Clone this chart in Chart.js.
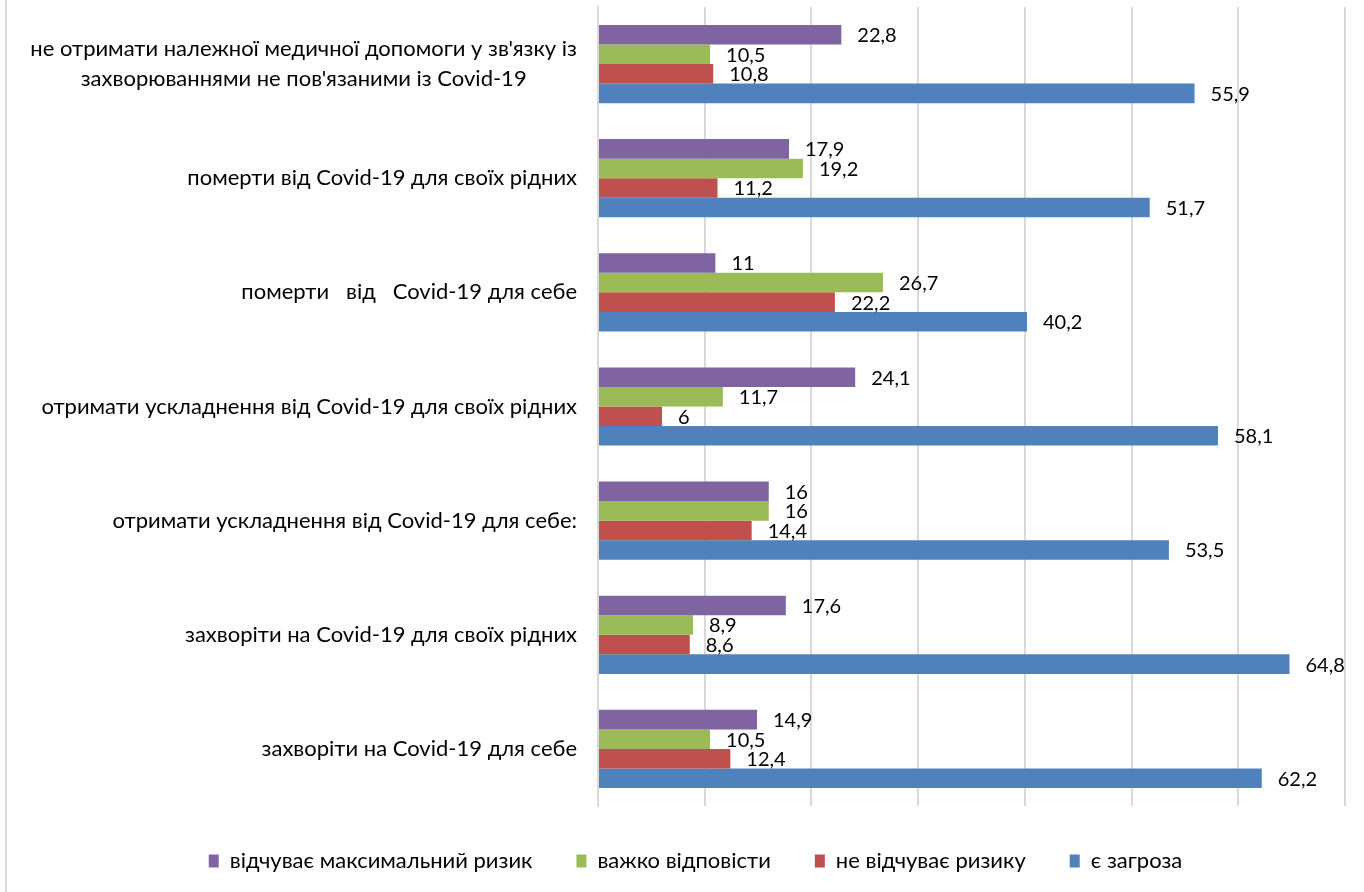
<!DOCTYPE html>
<html lang="uk">
<head>
<meta charset="utf-8">
<title>Covid-19 ризики</title>
<script src="https://cdn.jsdelivr.net/npm/chart.js@4.4.1/dist/chart.umd.min.js"></script>
<style>
    html, body { margin: 0; padding: 0; background: #fff; }
    #wrap { width: 1364px; height: 892px; }
</style>
</head>
<body>
<div id="wrap"><canvas id="risksChart" width="1364" height="892"></canvas></div>
<script>
// categories, top to bottom
const categories = [
    ["не отримати належної медичної допомоги у зв'язку із", "захворюваннями не пов'язаними із Covid-19"],
    "померти від Covid-19 для своїх рідних",
    "померти   від   Covid-19 для себе",
    "отримати ускладнення від Covid-19 для своїх рідних",
    "отримати ускладнення від Covid-19 для себе:",
    "захворіти на Covid-19 для своїх рідних",
    "захворіти на Covid-19 для себе"
];

const seriesNames = ['відчуває максимальний ризик', 'важко відповісти', 'не відчуває ризику', 'є загроза'];

const maxRisk = [22.8, 17.9, 11, 24.1, 16, 17.6, 14.9];
const hardToSay = [10.5, 19.2, 26.7, 11.7, 16, 8.9, 10.5];
const noRisk = [10.8, 11.2, 22.2, 6, 14.4, 8.6, 12.4];
const threat = [55.9, 51.7, 40.2, 58.1, 53.5, 64.8, 62.2];

const colors = ['#8064A2', '#9BBB59', '#C0504D', '#4F81BD'];
const FONT = 'Lato, "Open Sans", sans-serif';

function formatValue(v) {
    return String(v).replace('.', ',');
}

// left edge line of the chart frame
const framePlugin = {
    id: 'frame',
    beforeDraw(chart) {
        const ctx = chart.ctx;
        ctx.save();
        ctx.fillStyle = '#d9d9d9';
        ctx.fillRect(5, 0, 2, chart.height);
        ctx.restore();
    }
};

// category names, right aligned block, lines centered inside it
const categoryLabelsPlugin = {
    id: 'categoryLabels',
    afterDraw(chart) {
        const ctx = chart.ctx;
        const yScale = chart.scales.y;
        const right = chart.chartArea.left - 21;
        ctx.save();
        ctx.font = '22px ' + FONT;
        ctx.fillStyle = '#000';
        ctx.textAlign = 'center';
        ctx.textBaseline = 'middle';
        categories.forEach((label, i) => {
            const lines = Array.isArray(label) ? label : [label];
            const y = yScale.getPixelForValue(i);
            const widest = Math.max(...lines.map(l => ctx.measureText(l).width));
            const cx = right - widest / 2;
            lines.forEach((line, j) => {
                ctx.fillText(line, cx, y + (j - (lines.length - 1) / 2) * 30);
            });
        });
        ctx.restore();
    }
};

// value labels at the end of each bar
const valueLabelsPlugin = {
    id: 'valueLabels',
    afterDatasetsDraw(chart) {
        const ctx = chart.ctx;
        ctx.save();
        ctx.font = '20px ' + FONT;
        ctx.fillStyle = '#000';
        ctx.textAlign = 'left';
        ctx.textBaseline = 'middle';
        chart.data.datasets.forEach((ds, di) => {
            const meta = chart.getDatasetMeta(di);
            meta.data.forEach((bar, i) => {
                ctx.fillText(formatValue(ds.data[i]), bar.x + 16, bar.y + 1);
            });
        });
        ctx.restore();
    }
};

function makeDataset(idx, values) {
    return {
        label: seriesNames[idx],
        data: values,
        backgroundColor: colors[idx],
        borderWidth: 0,
        barPercentage: 1,
        categoryPercentage: 0.685
    };
}

new Chart(document.getElementById('risksChart'), {
    type: 'bar',
    data: {
        labels: categories,
        datasets: [
            makeDataset(0, maxRisk),
            makeDataset(1, hardToSay),
            makeDataset(2, noRisk),
            makeDataset(3, threat)
        ]
    },
    options: {
        indexAxis: 'y',
        responsive: false,
        animation: false,
        layout: {
            padding: { top: 7, right: 19, bottom: 10, left: 46 }
        },
        scales: {
            x: {
                min: 0,
                max: 70,
                ticks: { display: false, stepSize: 10 },
                grid: { color: '#d9d9d9', lineWidth: 2, drawTicks: false },
                border: { display: false }
            },
            y: {
                ticks: { display: false },
                grid: { display: false, drawTicks: false },
                border: { display: true, color: '#d9d9d9', width: 2 },
                afterFit(scale) {
                    scale.width = 552;
                }
            }
        },
        plugins: {
            legend: {
                position: 'bottom',
                maxHeight: 86,
                labels: {
                    boxWidth: 10,
                    boxHeight: 13,
                    padding: 44,
                    color: '#000',
                    font: { family: FONT, size: 22 }
                }
            },
            tooltip: { enabled: false }
        }
    },
    plugins: [framePlugin, categoryLabelsPlugin, valueLabelsPlugin]
});
</script>
</body>
</html>
